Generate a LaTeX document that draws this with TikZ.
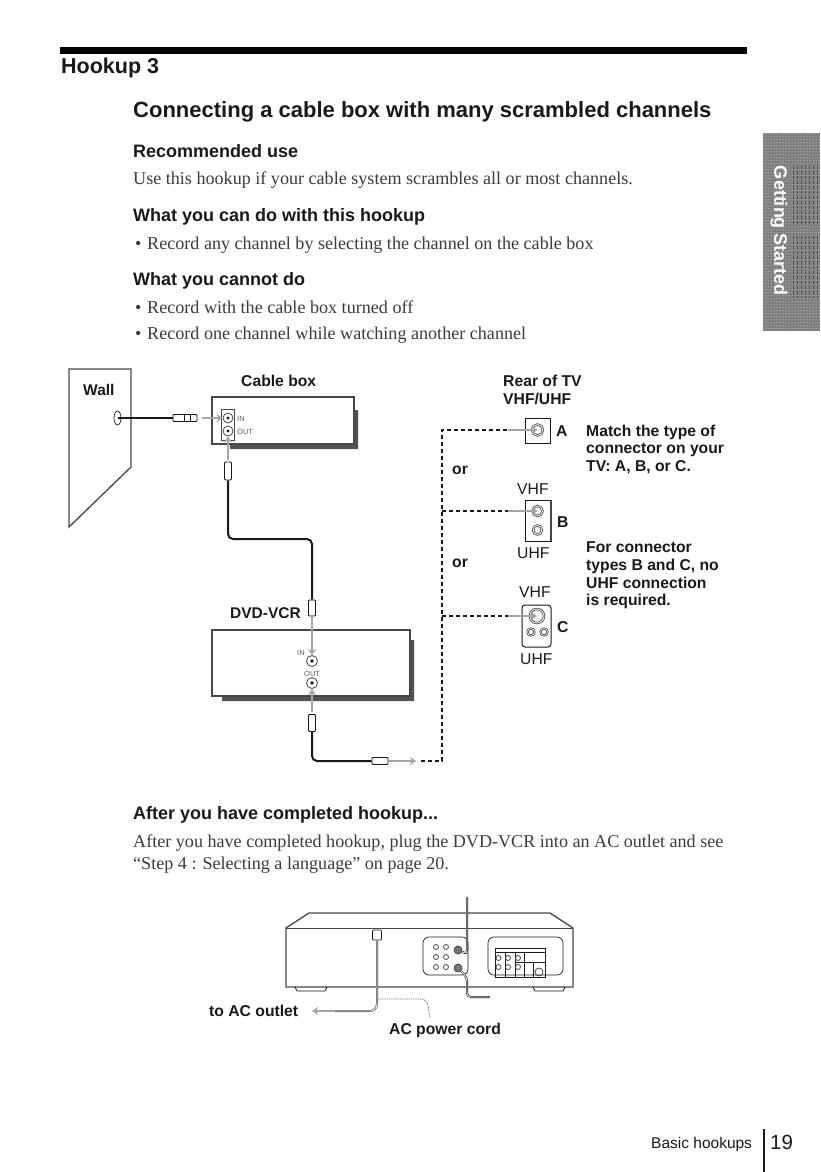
\documentclass[tikz,border=0pt]{standalone}
\usepackage{fontspec}
\setmainfont{Liberation Serif}
\setsansfont{Liberation Sans}
\usetikzlibrary{arrows.meta,patterns,calc,positioning,shapes.geometric}
\definecolor{PageInk}{RGB}{25,25,25}
\definecolor{TabGray}{RGB}{125,125,125}
\definecolor{SigGray}{RGB}{165,165,165}
\tikzset{
  headtext/.style={anchor=base west,inner sep=0pt,font=\sffamily\bfseries\fontsize{18}{20}\selectfont,text=PageInk},
  bodytext/.style={anchor=base west,inner sep=0pt,font=\rmfamily\fontsize{18.1}{20}\selectfont,text=PageInk!85},
  lab/.style={anchor=base west,inner sep=0pt,font=\sffamily\bfseries\fontsize{15.7}{17}\selectfont,text=PageInk},
  thin lab/.style={anchor=base west,inner sep=0pt,font=\sffamily\fontsize{15.7}{17}\selectfont,text=PageInk},
  tiny lab/.style={anchor=base west,inner sep=0pt,font=\sffamily\fontsize{7.5}{8}\selectfont,text=PageInk!70},
  boxline/.style={draw=PageInk!80,line width=1.3pt},
  shadowfill/.style={fill=PageInk!75,draw=none},
  cable/.style={draw=PageInk,line width=2pt,rounded corners=5pt},
  sigline/.style={draw=SigGray,line width=2.6pt,-{Stealth[length=6pt,width=8pt]}},
  dashline/.style={draw=PageInk,line width=1.2pt,dash pattern=on 4pt off 3pt},
  plugv/.style={draw=PageInk,fill=white,line width=.9pt,minimum width=7pt,minimum height=16pt,inner sep=0pt,rounded corners=1pt},
  plugh/.style={draw=PageInk,fill=white,line width=.9pt,minimum width=16pt,minimum height=7pt,inner sep=0pt,rounded corners=1pt},
  jack/.style={circle,draw=PageInk!80,line width=.8pt,inner sep=0pt,minimum size=#1},
}
\begin{document}
\begin{tikzpicture}[x=1pt,y=-1pt]
\useasboundingbox (0,0) rectangle (820,1172);
\fill[black] (60,47) rectangle (747,54);
\node[anchor=base west,inner sep=0pt,font=\sffamily\bfseries\fontsize{21.5}{24}\selectfont,text=PageInk] (hookup) at (61,74) {Hookup 3};
\node[anchor=base west,inner sep=0pt,font=\sffamily\bfseries\fontsize{22}{24}\selectfont,text=PageInk] (title) at (133,117) {Connecting a cable box with many scrambled channels};
\node[headtext] (recuse) at (133,157) {Recommended use};
\node[bodytext] (recbody) at (133,184) {Use this hookup if your cable system scrambles all or most channels.};
\node[headtext] (cando) at (133,221) {What you can do with this hookup};
\node[bodytext] (bulleta) at (135,249) {•};
\node[bodytext] (candobody) at (147,249) {Record any channel by selecting the channel on the cable box};
\node[headtext] (cannot) at (133,285) {What you cannot do};
\node[bodytext] (bulletb) at (135,313) {•};
\node[bodytext] (cannota) at (147,313) {Record with the cable box turned off};
\node[bodytext] (bulletc) at (135,339) {•};
\node[bodytext] (cannotb) at (147,339) {Record one channel while watching another channel};
% side tab
\fill[TabGray] (763,133) rectangle (820,331);
\fill[pattern=dots,pattern color=white] (763,133) rectangle (820,331);
\foreach \x in {793,797,...,819} \draw[black!70,line width=1pt,dash pattern=on 3pt off 2pt] (\x,166) -- (\x,226) (\x,236) -- (\x,298);
\node[rotate=-90,inner sep=0pt,text=white,font=\sffamily\bfseries\fontsize{18}{18}\selectfont] (tab) at (779,231) {Getting Started};
% wall
\draw[boxline] (69,369) -- (131,369) -- (131,467) -- (69,527) -- cycle;
\node[lab,font=\sffamily\bfseries\fontsize{15.5}{17}\selectfont] (wall) at (83,395) {Wall};
\node[ellipse,draw=PageInk,line width=.7pt,minimum width=7pt,minimum height=14pt,inner sep=0pt] (wallport) at (117.5,418) {};
% cable box
\fill[shadowfill] (230,444) rectangle (358,449) (354,410) rectangle (358,449);
\draw[boxline,fill=white] (212,397) rectangle (354,444);
\node[lab] (cablelab) at (241,386) {Cable box};
\node[draw=PageInk!80,line width=.8pt,minimum width=13pt,minimum height=31pt,inner sep=0pt] (panel) at (228,425) {};
\node[jack=10pt] (boxin) at (228,418) {};
\node[jack=10pt] (boxout) at (228,431) {};
\fill[PageInk] (boxin) circle (1.6) (boxout) circle (1.6);
\node[tiny lab] (inlab) at (237,421) {IN};
\node[tiny lab] (outlab) at (237,434) {OUT};
\node[plugh,minimum width=24pt] (wallplug) at (185,418) {};
\draw[PageInk,line width=.8pt] (184,414.5) -- (184,421.5) (190,414.5) -- (190,421.5);
\draw[cable,line width=2.6pt] (wallport.center) -- (wallplug.west);
\draw[sigline] (202,418) -- (boxin.west);
\draw[sigline,{Stealth[length=6pt,width=8pt]}-] (boxout.south) -- (228,460);
\node[plugv,minimum height=18pt] (outplug) at (228,471) {};
% dvd-vcr
\fill[shadowfill] (222,696) rectangle (414,701) (410,640) rectangle (414,701);
\draw[boxline,fill=white] (212,630) rectangle (410,696);
\node[lab,font=\sffamily\bfseries\fontsize{15.5}{17}\selectfont] (dvdlab) at (230,618) {DVD-VCR};
\node[plugv] (inplug) at (312,608) {};
\node[jack=11pt] (dvdin) at (312,661) {};
\node[jack=11pt] (dvdout) at (312,683) {};
\fill[PageInk] (dvdin) circle (1.8) (dvdout) circle (1.8);
\node[tiny lab] (dvdinlab) at (297,655) {IN};
\node[tiny lab] (dvdoutlab) at (304,676) {OUT};
\draw[cable] (outplug.south) |- (inplug.north |- 0,539) -- (inplug.north);
\draw[sigline] (inplug.south) -- (dvdin.north);
\draw[sigline,{Stealth[length=6pt,width=8pt]}-] (dvdout.south) -- (312,712);
\node[plugv,minimum height=17pt] (lowplug) at (312,723) {};
\node[plugh] (endplug) at (380,761) {};
\draw[cable] (lowplug.south) |- (endplug.west);
\coordinate (tipend) at (416,761);
\draw[sigline] (endplug.east) -- (tipend);
% rear of tv
\node[lab] (rearlab) at (503,386) {Rear of TV};
\node[lab] (vhfuhf) at (503,404) {VHF/UHF};
\node[draw=PageInk,line width=.8pt,fill=white,minimum width=25pt,minimum height=25pt,inner sep=0pt] (tva) at (537.5,430.5) {};
\node[draw=PageInk,line width=.8pt,fill=white,minimum width=26pt,minimum height=41pt,inner sep=0pt] (tvb) at (538,520.5) {};
\draw[PageInk!80,line width=1.8pt] (551,500) -- (551,541);
\node[draw=PageInk,line width=1pt,fill=white,rounded corners=3pt,minimum width=29pt,minimum height=42pt,inner sep=0pt] (tvc) at (536.5,626) {};
\node[jack=11pt,double,double distance=.8pt] (porta) at (537.5,430) {};
\node[jack=10pt,double,double distance=.8pt] (portb) at (537.5,511) {};
\node[jack=9pt,double,double distance=.8pt] (portbu) at (537.5,530) {};
\node[jack=14pt,double,double distance=.8pt] (portc) at (537,616) {};
\node[jack=7pt,double,double distance=.6pt] (portcl) at (531,632) {};
\node[jack=7pt,double,double distance=.6pt] (portcr) at (544,632) {};
\coordinate (busa) at (442,430);
\coordinate (busb) at (442,511);
\coordinate (busc) at (442,616);
\coordinate (busend) at (442,761);
\coordinate (siga) at (508,430);
\coordinate (sigb) at (508,511);
\coordinate (sigc) at (508,616);
\draw[dashline] (tipend) ++(5,0) -- (busend) -- (busa) -- (siga);
\draw[dashline] (busb) -- (sigb);
\draw[dashline] (busc) -- (sigc);
\draw[sigline] (siga) -- (porta.center);
\draw[sigline] (sigb) -- (portb.center);
\draw[sigline] (sigc) -- (portc.center);
\node[lab] (letra) at (556,436) {A};
\node[lab] (letrb) at (557,527) {B};
\node[lab] (letrc) at (557,632) {C};
\node[lab] (ora) at (452,474) {or};
\node[lab] (orb) at (452,567) {or};
\node[thin lab] (vhfb) at (517,494) {VHF};
\node[thin lab] (uhfb) at (517,558) {UHF};
\node[thin lab] (vhfc) at (519,597) {VHF};
\node[thin lab] (uhfc) at (520,664) {UHF};
\foreach \y/\t/\n in {436/Match the type of/ma,453/connector on your/mb,471/{TV: A, B, or C.}/mc}
  \node[lab] (\n) at (586,\y) {\t};
\foreach \y/\t/\n in {552/For connector/fa,570/{types B and C, no}/fb,588/UHF connection/fc,605/is required./fd}
  \node[lab] (\n) at (586,\y) {\t};
% after hookup
\node[headtext] (after) at (133,819) {After you have completed hookup...};
\node[bodytext] (aftera) at (133,847) {After you have completed hookup, plug the DVD-VCR into an AC outlet and see};
\node[bodytext] (afterb) at (133,869) {“Step 4 : Selecting a language” on page 20.};
% rear of unit
\draw[PageInk!80,line width=.5pt] (286,928) -- (573,928);
\draw[boxline] (286,928) -- (309,913) -- (550,913) -- (573,928) -- (573,987) -- (286,987) -- cycle;
\draw[PageInk,line width=.8pt] (295,987) -- (297,991) -- (325,991) -- (327,987) (533,987) -- (535,991) -- (563,991) -- (565,987);
\draw[PageInk,line width=.7pt,rounded corners=6pt] (423,937) rectangle (468,975);
\draw[PageInk,line width=.7pt,rounded corners=6pt] (488,937) rectangle (563,975);
\foreach \x in {436,446} \foreach \y in {947,957,967} \node[jack=5pt] at (\x,\y) {};
\node[jack=8pt,fill=PageInk!60] (rearin) at (458,950) {};
\node[jack=8pt,fill=PageInk!60] (rearout) at (458,968) {};
\draw[PageInk,line width=.7pt] (495,948) rectangle (545,977) (495,952) -- (545,952) (505,952) -- (505,977) (515,952) -- (515,977) (524,952) -- (524,962) (515,962) -- (545,962) (533,962) -- (533,977) (524,962) -- (524,977);
\foreach \x in {498.5,508,518} \foreach \y in {958,967} \node[jack=5pt] at (\x,\y) {};
\node[jack=8pt] (rearant) at (539,972) {};
\coordinate (topcable) at (467,897);
\coordinate (sidecable) at (490,997);
\draw[PageInk,line width=2pt,rounded corners=3pt] (topcable) -- (467,954) -- (rearin);
\draw[white,line width=.8pt,rounded corners=3pt] (topcable) -- (467,954) -- (rearin);
\draw[PageInk,line width=2pt,rounded corners=4pt] (rearout) -- (467,977) -- (467,997) -- (sidecable);
\draw[white,line width=.8pt,rounded corners=4pt] (rearout) -- (467,977) -- (467,997) -- (sidecable);
\node[draw=PageInk,line width=.7pt,fill=white,rounded corners=1pt,minimum width=9pt,minimum height=10pt,inner sep=0pt] (powerplug) at (377,935) {};
\coordinate (powerend) at (335,1011);
\draw[PageInk!80,line width=2pt,rounded corners=7pt] (powerplug.south) -- (377,1011) -- (powerend);
\draw[white,line width=.8pt,rounded corners=7pt] (powerplug.south) -- (377,1011) -- (powerend);
\coordinate (arrowend) at (312,1011);
\draw[sigline] (powerend) -- (arrowend);
\coordinate (leadstart) at (378,999);
\coordinate (leadend) at (430,1018);
\draw[PageInk!65,line width=.8pt,dash pattern=on 1.2pt off 1pt,rounded corners=6pt] (leadstart) -- (427,999) -- (leadend);
\node[lab] (tooutlet) at (209,1016) {to AC outlet};
\node[lab] (powercord) at (389,1034) {AC power cord};
% folio
\node[anchor=base west,inner sep=0pt,font=\sffamily\fontsize{15.5}{17}\selectfont,text=PageInk] (folio) at (651,1148) {Basic hookups};
\node[anchor=base west,inner sep=0pt,font=\sffamily\fontsize{20.5}{24}\selectfont,text=PageInk] (pageno) at (770,1149) {19};
\draw[PageInk,line width=1.2pt] (764,1129) -- (764,1172);
\end{tikzpicture}
\end{document}
